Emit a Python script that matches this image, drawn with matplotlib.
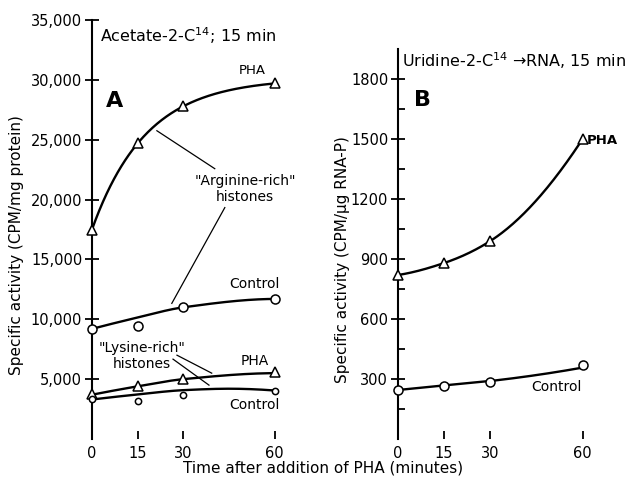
import numpy as np
import matplotlib
matplotlib.use("Agg")
import matplotlib.pyplot as plt

# ---------------- data ----------------
t = [0, 15, 30, 60]
# Panel A (CPM/mg protein)
arg_pha = [17500, 24700, 27800, 29700]
arg_ctrl = [9200, 9400, 11000, 11700]
lys_pha = [3800, 4400, 5000, 5600]
lys_ctrl = [3300, 3200, 3700, 4050]
# smooth curves drawn by eye in the original (knot values)
arg_ctrl_curve_t = [0, 15, 30, 60]
arg_ctrl_curve = [9200, 10150, 11000, 11700]
lys_pha_curve_t = [0, 15, 30, 60]
lys_pha_curve = [3700, 4400, 5000, 5500]
lys_ctrl_curve_t = [0, 15, 30, 45, 60]
lys_ctrl_curve = [3300, 3720, 4080, 4200, 4050]
# Panel B (CPM/ug RNA-P)
rna_pha = [820, 880, 990, 1500]
rna_ctrl = [245, 265, 287, 370]
rna_pha_curve_t = [0, 15, 30, 60]
rna_pha_curve = [820, 880, 990, 1500]
rna_ctrl_curve_t = [0, 15, 30, 60]
rna_ctrl_curve = [245, 268, 290, 357]

yticks_a = [5000, 10000, 15000, 20000, 25000, 30000, 35000]
yticks_b = [300, 600, 900, 1200, 1500, 1800]
xticks = [0, 15, 30, 60]


def pchip(x, y, xs):
    x = np.asarray(x, float); y = np.asarray(y, float)
    h = np.diff(x); d = np.diff(y) / h
    n = len(x); m = np.zeros(n)
    for k in range(1, n - 1):
        if d[k - 1] * d[k] > 0:
            w1 = 2 * h[k] + h[k - 1]; w2 = h[k] + 2 * h[k - 1]
            m[k] = (w1 + w2) / (w1 / d[k - 1] + w2 / d[k])
    def endslope(h0, h1, d0, d1):
        s = ((2 * h0 + h1) * d0 - h0 * d1) / (h0 + h1)
        if np.sign(s) != np.sign(d0):
            s = 0.0
        elif np.sign(d0) != np.sign(d1) and abs(s) > abs(3 * d0):
            s = 3 * d0
        return s
    if n > 2:
        m[0] = endslope(h[0], h[1], d[0], d[1])
        m[-1] = endslope(h[-1], h[-2], d[-1], d[-2])
    else:
        m[:] = d[0]
    xs = np.asarray(xs, float)
    idx = np.clip(np.searchsorted(x, xs) - 1, 0, n - 2)
    hh = h[idx]; s = (xs - x[idx]) / hh
    h00 = 2 * s**3 - 3 * s**2 + 1; h10 = s**3 - 2 * s**2 + s
    h01 = -2 * s**3 + 3 * s**2; h11 = s**3 - s**2
    return h00 * y[idx] + h10 * hh * m[idx] + h01 * y[idx + 1] + h11 * hh * m[idx + 1]


def saturating_fit(x, y, xs):
    """least-squares fit of y = a - b*exp(-x/c)"""
    x = np.asarray(x, float); y = np.asarray(y, float)
    best = None
    for c in np.linspace(2, 120, 2400):
        A = np.column_stack([np.ones_like(x), -np.exp(-x / c)])
        coef, *_ = np.linalg.lstsq(A, y, rcond=None)
        err = np.sum((A @ coef - y) ** 2)
        if best is None or err < best[0]:
            best = (err, c, coef)
    _, c, (a, b) = best
    xs = np.asarray(xs, float)
    return a - b * np.exp(-xs / c)


plt.rcParams['font.family'] = ['DejaVu Sans']
fig = plt.figure(figsize=(6.37, 4.8), dpi=100)
W, H = 637, 480

axA = fig.add_axes([92 / W, 41 / H, 198 / W, 419 / H])
axB = fig.add_axes([398 / W, 41 / H, 200 / W, 390 / H])

LW = 1.7
mk = dict(mfc='white', mec='black', mew=1.1, ls='none', clip_on=False, zorder=5)


def draw(ax, xs, ys):
    ax.plot(xs, ys, color='black', lw=LW, clip_on=False, zorder=3)


def curve(ax, kt, kv):
    xs = np.linspace(kt[0], kt[-1], 200)
    draw(ax, xs, pchip(kt, kv, xs))


# ---- Panel A ----
xs_a = np.linspace(0, 60, 200)
draw(axA, xs_a, saturating_fit(t, arg_pha, xs_a))
curve(axA, arg_ctrl_curve_t, arg_ctrl_curve)
curve(axA, lys_pha_curve_t, lys_pha_curve)
curve(axA, lys_ctrl_curve_t, lys_ctrl_curve)
axA.plot(t, arg_pha, marker='^', ms=7, **mk)
axA.plot(t, arg_ctrl, marker='o', ms=6.5, **mk)
axA.plot(t, lys_pha, marker='^', ms=6.5, **mk)
axA.plot(t, lys_ctrl, marker='o', ms=4.5, **mk)

axA.set_xlim(0, 65)
axA.set_ylim(0, 35000)
axA.set_yticks(yticks_a)
axA.set_yticklabels([f"{v:,}" for v in yticks_a])

# ---- Panel B ----
curve(axB, rna_pha_curve_t, rna_pha_curve)
curve(axB, rna_ctrl_curve_t, rna_ctrl_curve)
axB.plot(t, rna_pha, marker='^', ms=7, **mk)
axB.plot(t, rna_ctrl, marker='o', ms=6.5, **mk)
axB.set_xlim(0, 65)
axB.set_ylim(0, 1950)
axB.set_yticks(yticks_b)
axB.set_yticks([150, 450, 750, 1050, 1350, 1650], minor=True)

for ax in (axA, axB):
    for s in ('top', 'right', 'bottom'):
        ax.spines[s].set_visible(False)
    ax.spines['left'].set_linewidth(1.5)
    ax.set_xticks(xticks)
    ax.tick_params(axis='x', direction='in', length=6, width=1.3, pad=5, labelsize=10.5)
    ax.tick_params(axis='y', which='major', direction='inout', length=10, width=1.3, pad=2, labelsize=10.5)
    ax.tick_params(axis='y', which='minor', direction='in', length=5, width=1.3)
    ax.patch.set_visible(False)

# ---- annotations A ----
axA.text(2.6, 33700, "Acetate-2-C$^{14}$; 15 min", fontsize=11.5, va='center', ha='left')
axA.text(7.5, 28250, "A", fontsize=16, fontweight='bold', ha='center', va='center')
axA.text(52.5, 30750, "PHA", fontsize=9.5, ha='center', va='center')
axA.text(50.2, 20900, "\"Arginine-rich\"\nhistones", fontsize=10, ha='center', va='center',
         linespacing=1.15)
axA.plot([21.3, 40.3], [25750, 22580], color='black', lw=0.9)
axA.plot([43.6, 26.2], [19330, 11330], color='black', lw=0.9)
axA.text(53.4, 12920, "Control", fontsize=10, ha='center', va='center')
axA.text(16.3, 6950, "\"Lysine-rich\"\nhistones", fontsize=10, ha='center', va='center',
         linespacing=1.15)
axA.plot([27.9, 39.3], [7000, 5500], color='black', lw=0.9)
axA.plot([26.6, 38.4], [6670, 4500], color='black', lw=0.9)
axA.text(53.4, 6500, "PHA", fontsize=10, ha='center', va='center')
axA.text(53.4, 2830, "Control", fontsize=10, ha='center', va='center')

# ---- annotations B ----
axB.text(1.3, 1890, "Uridine-2-C$^{14}$ \u2192RNA, 15 min", fontsize=11.5, va='center', ha='left',
         clip_on=False)
axB.text(8.1, 1695, "B", fontsize=16, fontweight='bold', ha='center', va='center')
axB.text(61.5, 1490, "PHA", fontsize=9.5, fontweight='bold', ha='left', va='center')
axB.text(51.6, 260, "Control", fontsize=10, ha='center', va='center')

# ---- axis labels ----
fig.text(17 / W, 1 - 245 / H, "Specific activity (CPM/mg protein)", rotation=90,
         ha='center', va='center', fontsize=11)
fig.text(343 / W, 1 - 260 / H, "Specific activity (CPM/\u03bcg RNA-P)", rotation=90,
         ha='center', va='center', fontsize=11)
fig.text(323 / W, 1 - 468 / H, "Time after addition of PHA (minutes)",
         ha='center', va='center', fontsize=11)

fig.savefig("out.png", dpi=100)
